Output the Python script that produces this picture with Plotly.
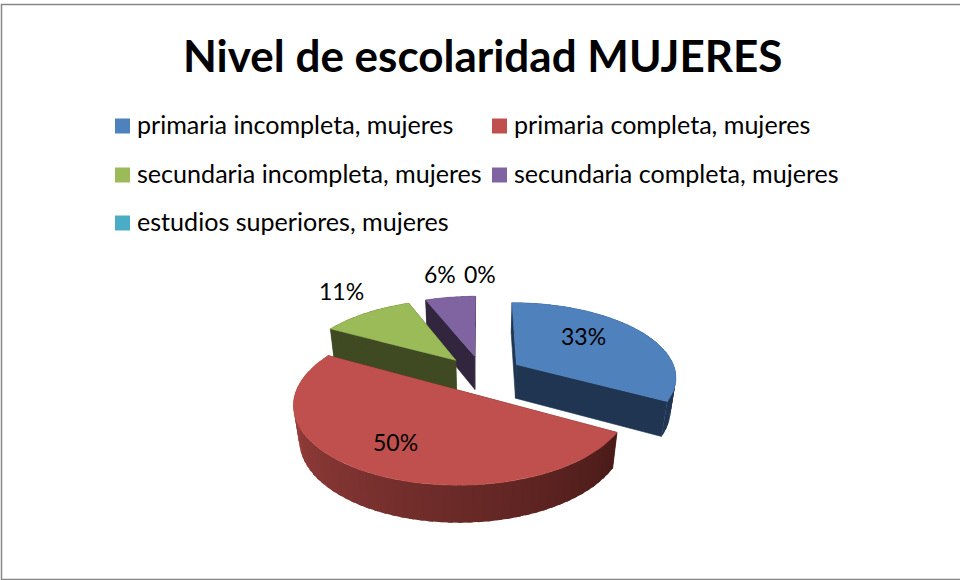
import numpy as np
import plotly.graph_objects as go

# ---- data ----
title_text = "Nivel de escolaridad MUJERES"
categories = ["primaria incompleta, mujeres", "primaria completa, mujeres",
              "secundaria incompleta, mujeres", "secundaria completa, mujeres",
              "estudios superiores, mujeres"]
values = [33, 50, 11, 6, 0]
colors = ["#4F81BD", "#C0504D", "#9BBB59", "#8064A2", "#4BACC6"]
wall_colors = ["#1F3552", "#4A1B19", "#3F4A22", "#32263F", "#2A6070"]

# ---- layout constants (pixels) ----
legend_slots = [(115, 126), (492, 126), (115, 175), (492, 175), (115, 223)]
label_slots = [(583, 336), (395, 442), (341, 291), (440, 274), (480, 274)]
FONT = "Lato"

# ---- projection of the exploded 3-D pie ----
F, P, KF, X0, Y0, WALL, EXPLODE, Q = 160.0, 0.152, 74.0, 482.0, 374.0, 35.0, 0.255, 0.03


def project(theta_deg, radius, offset, bottom=False):
    t = np.radians(theta_deg)
    X = radius * np.sin(t) + offset[0]
    Y = radius * np.cos(t) + offset[1]
    d = 1 + P * Y + (Q if bottom else 0.0)
    xp = X0 + F * X / d
    yp = Y0 - KF * Y / d + (WALL / d if bottom else 0.0)
    return xp, yp


def polygon(xs, ys, color, width=0.6):
    return go.Scatter(x=list(xs), y=list(ys), mode="lines", fill="toself",
                      fillcolor=color, line=dict(color=color, width=width),
                      hoverinfo="skip", showlegend=False)


def lerp(c0, c1, t):
    a = [int(c0[i:i + 2], 16) for i in (1, 3, 5)]
    b = [int(c1[i:i + 2], 16) for i in (1, 3, 5)]
    return "rgb(%d,%d,%d)" % tuple(round(u + (v - u) * t) for u, v in zip(a, b))


total = sum(values)
edges = np.cumsum([0] + values) / total * 360.0
slices = []
for i, v in enumerate(values):
    a0, a1 = edges[i], edges[i + 1]
    mid = np.radians((a0 + a1) / 2)
    slices.append((i, a0, a1, (EXPLODE * np.sin(mid), EXPLODE * np.cos(mid))))

traces = []
for i, a0, a1, off in [slices[j] for j in (3, 2, 0, 1)]:
    # radial walls
    for a in (a0, a1):
        xt, yt = project(a, 1.0, off)
        xb, yb = project(a, 1.0, off, True)
        xc, yc = project(0, 0.0, off)
        xd, yd = project(0, 0.0, off, True)
        traces.append(polygon([xc, xt, xb, xd, xc], [yc, yt, yb, yd, yc], wall_colors[i]))
    # curved wall, built as overlapping quads so that it can shade along the arc
    steps = np.linspace(a0, a1, max(int((a1 - a0) / 3), 2) + 1)
    for s0, s1 in zip(steps[:-1], steps[1:]):
        s2 = min(s1 + 1.5, a1)
        x0, y0 = project(s0, 1.0, off)
        x1, y1 = project(s2, 1.0, off)
        x2, y2 = project(s2, 1.0, off, True)
        x3, y3 = project(s0, 1.0, off, True)
        if i == 1:
            col = lerp("#4A1B19", "#A54542", min(max(((s0 + s1) / 2 - 120) / 170, 0), 1))
        else:
            col = wall_colors[i]
        traces.append(polygon([x0, x1, x2, x3, x0], [y0, y1, y2, y3, y0], col, 0))
    # top face
    arc = np.linspace(a0, a1, 80)
    xa, ya = project(arc, 1.0, off)
    xc, yc = project(0, 0.0, off)
    traces.append(polygon([xc, *xa, xc], [yc, *ya, yc], colors[i]))

fig = go.Figure(traces)

annotations = [dict(x=482, y=55, text="<b>%s</b>" % title_text, showarrow=False,
                    font=dict(family=FONT, size=44, color="#000000"),
                    xanchor="center", yanchor="middle")]
shapes = [dict(type="rect", x0=1.5, y0=4.5, x1=962, y1=579.5,
               line=dict(color="#868686", width=1.5), fillcolor="rgba(0,0,0,0)")]
for (lx, ly), name, col in zip(legend_slots, categories, colors):
    shapes.append(dict(type="rect", x0=lx, x1=lx + 15, y0=ly - 7.5, y1=ly + 7.5,
                       fillcolor=col, line=dict(width=0)))
    annotations.append(dict(x=lx + 19.5, y=ly - 2, text=name, showarrow=False, xanchor="left",
                            yanchor="middle", font=dict(family=FONT, size=25.1, color="#000000")))
for (lx, ly), v in zip(label_slots, values):
    annotations.append(dict(x=lx, y=ly, text="%d%%" % v, showarrow=False, xanchor="center",
                            yanchor="middle", font=dict(family=FONT, size=23, color="#000000")))

axis = dict(visible=False, fixedrange=True)
fig.update_layout(width=960, height=580, autosize=False, margin=dict(l=0, r=0, t=0, b=0),
                  paper_bgcolor="#FFFFFF", plot_bgcolor="#FFFFFF", showlegend=False,
                  xaxis=dict(range=[0, 960], **axis),
                  yaxis=dict(range=[580, 0], **axis),
                  annotations=annotations, shapes=shapes)
fig.write_html("out.html", config={"displayModeBar": False},
               post_script="document.body.style.margin='0';")
